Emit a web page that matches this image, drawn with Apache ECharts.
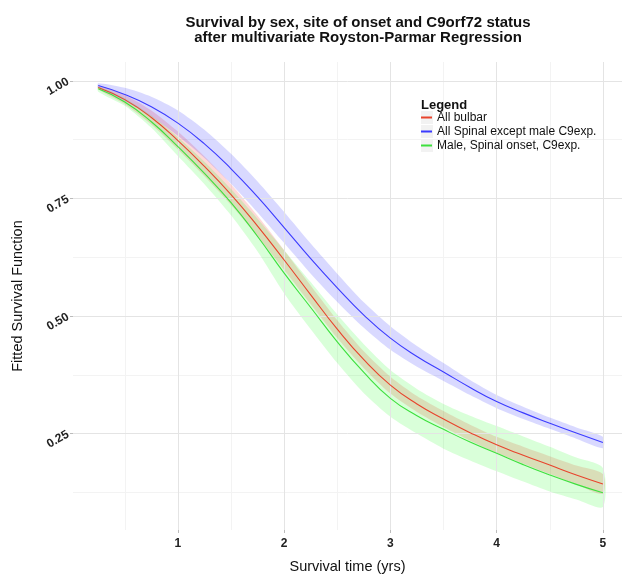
<!DOCTYPE html>
<html>
<head>
<meta charset="utf-8">
<script src="https://cdn.jsdelivr.net/npm/echarts@6/dist/echarts.min.js"></script>
<style>
  html, body { margin: 0; padding: 0; background: #fff; }
  #chart { width: 622px; height: 577px; }
</style>
</head>
<body>
<div id="chart"></div>
<script>
// survival time (yrs)
const times = [0.25, 0.5, 0.75, 1, 1.25, 1.5, 1.75, 2, 2.25, 2.5, 2.75, 3, 3.25, 3.5, 3.75, 4, 4.25, 4.5, 4.75, 5]

// All bulbar
const bulbar = [0.986, 0.960, 0.922, 0.873, 0.818, 0.758, 0.691, 0.619, 0.545, 0.472, 0.407, 0.353, 0.313, 0.281, 0.252, 0.226, 0.204, 0.183, 0.162, 0.143]
const bulbarLo = [0.982, 0.950, 0.907, 0.854, 0.797, 0.736, 0.669, 0.598, 0.525, 0.453, 0.389, 0.335, 0.296, 0.264, 0.235, 0.209, 0.186, 0.164, 0.142, 0.122]
const bulbarHi = [0.990, 0.970, 0.937, 0.892, 0.839, 0.780, 0.713, 0.640, 0.565, 0.491, 0.425, 0.371, 0.330, 0.298, 0.269, 0.243, 0.222, 0.202, 0.182, 0.164]

// All Spinal except male C9exp.
const spinal = [0.990, 0.971, 0.945, 0.910, 0.866, 0.813, 0.753, 0.688, 0.622, 0.560, 0.502, 0.453, 0.414, 0.381, 0.348, 0.318, 0.294, 0.272, 0.251, 0.231]
const spinalLo = [0.985, 0.957, 0.924, 0.883, 0.836, 0.781, 0.720, 0.655, 0.590, 0.530, 0.475, 0.428, 0.392, 0.362, 0.332, 0.304, 0.281, 0.260, 0.239, 0.219]
const spinalHi = [0.995, 0.985, 0.966, 0.937, 0.896, 0.845, 0.786, 0.721, 0.654, 0.590, 0.529, 0.478, 0.436, 0.400, 0.364, 0.332, 0.307, 0.284, 0.263, 0.243]

// Male, Spinal onset, C9exp.
const maleC9 = [0.983, 0.955, 0.913, 0.860, 0.803, 0.741, 0.669, 0.591, 0.518, 0.445, 0.380, 0.325, 0.288, 0.259, 0.232, 0.208, 0.184, 0.162, 0.142, 0.124]
const maleC9Lo = [0.977, 0.947, 0.900, 0.840, 0.780, 0.714, 0.637, 0.548, 0.472, 0.400, 0.336, 0.286, 0.250, 0.218, 0.193, 0.170, 0.148, 0.127, 0.110, 0.094]
const maleC9Hi = [0.988, 0.963, 0.926, 0.880, 0.828, 0.770, 0.707, 0.640, 0.572, 0.503, 0.440, 0.385, 0.345, 0.313, 0.288, 0.266, 0.244, 0.222, 0.199, 0.177]

const xTicks = [1, 2, 3, 4, 5]
const xMinor = [0.5, 1.5, 2.5, 3.5, 4.5]
const yTicks = [0.25, 0.5, 0.75, 1.0]
const yMinor = [0.125, 0.375, 0.625, 0.875]

const groups = [
  { name: 'All bulbar', mid: bulbar, lo: bulbarLo, hi: bulbarHi, line: '#e8432c', fill: 'rgba(255,0,0,0.15)' },
  { name: 'All Spinal except male C9exp.', mid: spinal, lo: spinalLo, hi: spinalHi, line: '#3b3bff', fill: 'rgba(0,0,255,0.15)' },
  { name: 'Male, Spinal onset, C9exp.', mid: maleC9, lo: maleC9Lo, hi: maleC9Hi, line: '#3de03d', fill: 'rgba(0,255,0,0.15)' }
]

const font = "'Liberation Sans', Arial, sans-serif"
const xMin = 0.0125
const xMax = 5.18
const yMin = 0.045
const yMax = 1.04

const pairs = arr => times.map((t, i) => [t, arr[i]])

const series = []
// ribbons (confidence bands) drawn as polygons through the axes
groups.forEach((g, k) => {
  series.push({
    name: 'band' + k,
    type: 'custom',
    data: [[times[0], g.lo[0]]],
    silent: true,
    z: 1,
    renderItem: (params, api) => {
      const pts = []
      times.forEach((t, i) => pts.push(api.coord([t, g.hi[i]])))
      for (let i = times.length - 1; i >= 0; i--) pts.push(api.coord([times[i], g.lo[i]]))
      return {
        type: 'polygon',
        shape: { points: pts, smooth: 0.25 },
        style: { fill: g.fill }
      }
    }
  })
})
// fitted lines
groups.forEach(g => {
  series.push({
    name: g.name,
    type: 'line',
    data: pairs(g.mid),
    smooth: true,
    symbol: 'none',
    lineStyle: { color: g.line, width: 1.1 },
    itemStyle: { color: g.line },
    z: 3
  })
})

const chart = echarts.init(document.getElementById('chart'))
chart.setOption({
  animation: false,
  backgroundColor: '#fff',
  textStyle: { fontFamily: font },
  title: [
    {
      text: 'Survival by sex, site of onset and C9orf72 status\nafter multivariate Royston-Parmar Regression',
      left: 353,
      top: 10,
      textAlign: 'center',
      textStyle: { fontSize: 15, fontWeight: 'bold', color: '#111', lineHeight: 15, fontFamily: font }
    },
    {
      text: 'Legend',
      left: 416,
      top: 94,
      textStyle: { fontSize: 13, fontWeight: 'bold', color: '#111', fontFamily: font }
    }
  ],
  graphic: [
    { type: 'rect', shape: { x: 421, y: 111, width: 12, height: 13 }, style: { fill: '#f2f2f2' }, z: 90 },
    { type: 'rect', shape: { x: 421, y: 125, width: 12, height: 13 }, style: { fill: '#f2f2f2' }, z: 90 },
    { type: 'rect', shape: { x: 421, y: 139, width: 12, height: 13 }, style: { fill: '#f2f2f2' }, z: 90 }
  ],
  legend: {
    data: groups.map(g => g.name),
    orient: 'vertical',
    left: 421,
    top: 111,
    padding: 0,
    itemGap: 1,
    itemWidth: 11,
    itemHeight: 2,
    icon: 'rect',
    z: 100,
    textStyle: { fontSize: 12, color: '#111', lineHeight: 13, fontFamily: font }
  },
  grid: {
    left: 73,
    right: 0,
    top: 62,
    bottom: 47,
    containLabel: false,
    outerBoundsMode: 'none'
  },
  xAxis: [
    {
      type: 'value',
      min: xMin,
      max: xMax,
      name: 'Survival time (yrs)',
      nameLocation: 'middle',
      nameGap: 29,
      nameTextStyle: { fontSize: 14.5, color: '#111', fontFamily: font },
      axisLine: { show: false },
      axisTick: { show: true, length: 3, customValues: xTicks, lineStyle: { color: '#bbb' } },
      axisLabel: { customValues: xTicks, margin: 8, fontSize: 12, fontWeight: 'bold', color: '#222', fontFamily: font },
      splitLine: { show: true, lineStyle: { color: '#e4e4e4', width: 1 } },
      z: 2
    },
    {
      type: 'value',
      min: xMin,
      max: xMax,
      axisLine: { show: false },
      axisTick: { show: false, customValues: xMinor },
      axisLabel: { show: false, customValues: xMinor },
      splitLine: { show: true, lineStyle: { color: '#f3f3f3', width: 1 } },
      z: 1
    }
  ],
  yAxis: [
    {
      type: 'value',
      min: yMin,
      max: yMax,
      name: 'Fitted Survival Function',
      nameLocation: 'middle',
      nameGap: 48,
      nameTextStyle: { fontSize: 14.5, color: '#111', fontFamily: font },
      axisLine: { show: false },
      axisTick: { show: true, length: 3, customValues: yTicks, lineStyle: { color: '#bbb' } },
      axisLabel: {
        customValues: yTicks,
        rotate: 30,
        margin: 5,
        fontSize: 12,
        fontWeight: 'bold',
        color: '#222',
        fontFamily: font,
        formatter: v => v.toFixed(2)
      },
      splitLine: { show: true, lineStyle: { color: '#e4e4e4', width: 1 } },
      z: 2
    },
    {
      type: 'value',
      min: yMin,
      max: yMax,
      axisLine: { show: false },
      axisTick: { show: false, customValues: yMinor },
      axisLabel: { show: false, customValues: yMinor },
      splitLine: { show: true, lineStyle: { color: '#f3f3f3', width: 1 } },
      z: 1
    }
  ],
  series: series
})
</script>
</body>
</html>
